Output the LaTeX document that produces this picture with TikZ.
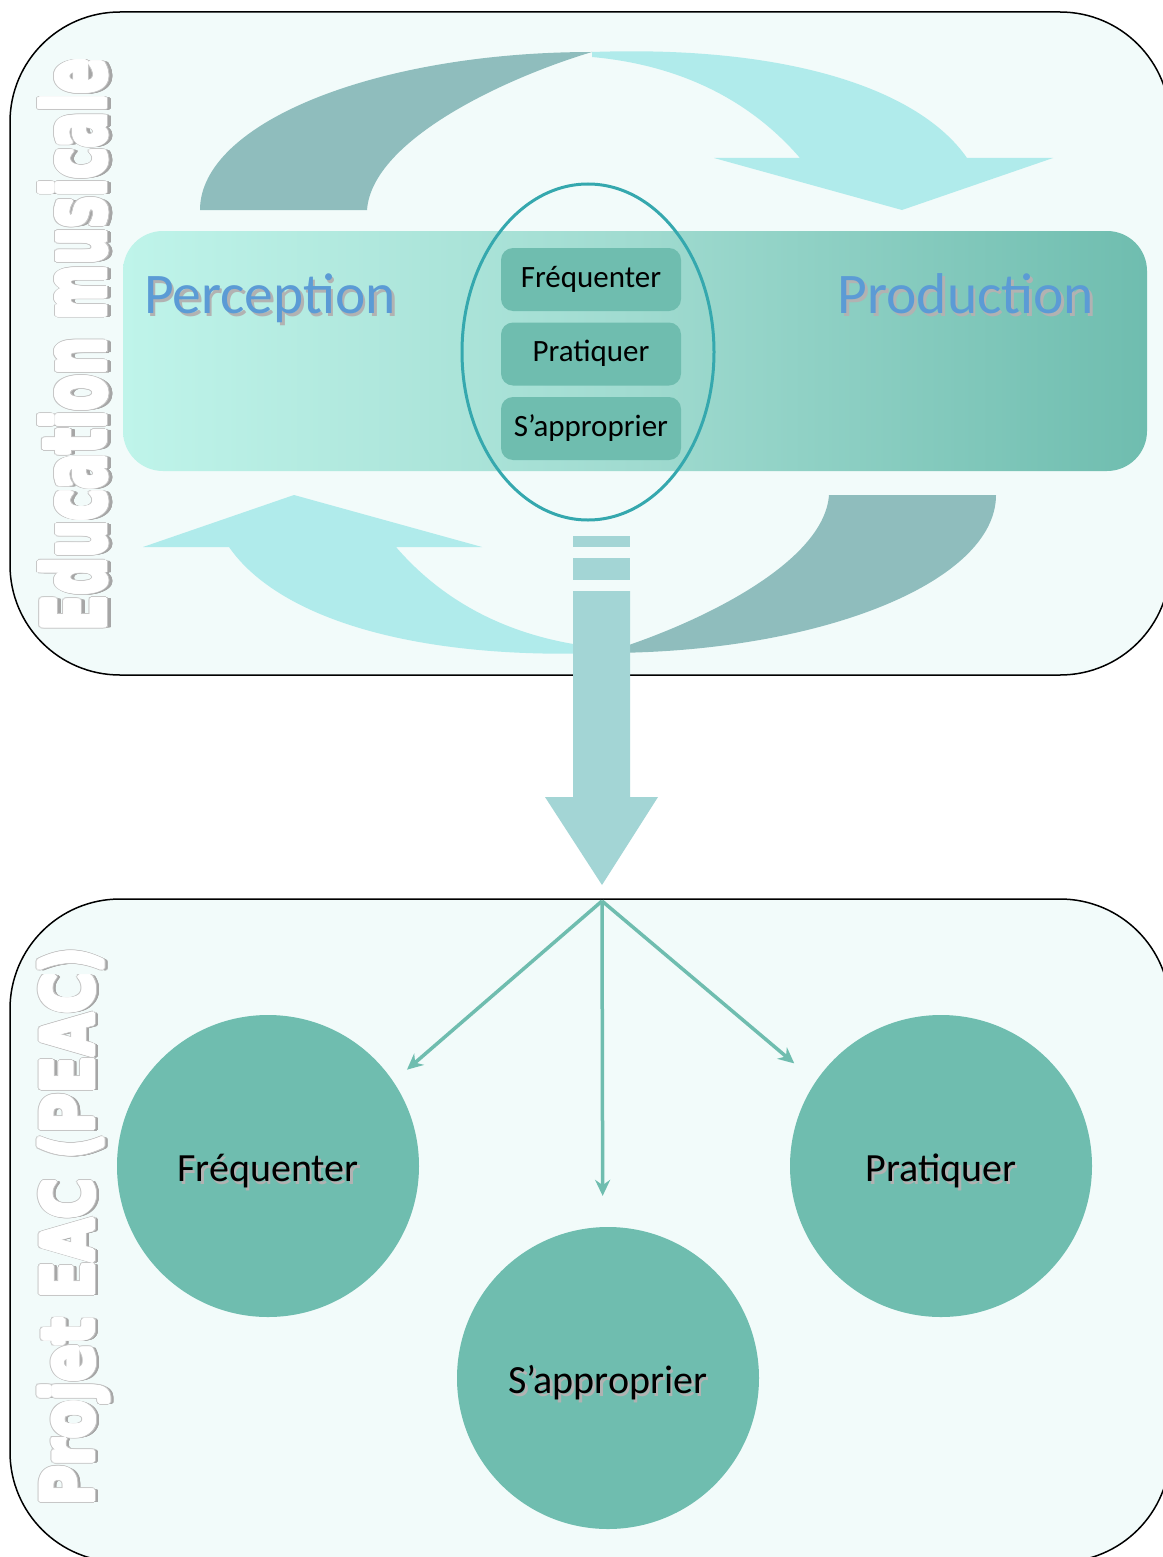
\documentclass[tikz,border=0pt]{standalone}
\usepackage{fontspec}
\setmainfont{Carlito}
\newfontfamily\titlefont{DejaVu Sans}
\usepackage[copies]{contour}
\usetikzlibrary{arrows.meta}
\contournumber{24}

\definecolor{framefill}{HTML}{F2FBFA}
\definecolor{backface}{HTML}{8FBDBD}
\definecolor{frontface}{HTML}{B0EBEB}
\definecolor{bandleft}{HTML}{BFF4EA}
\definecolor{bandmid}{HTML}{A0DBD0}
\definecolor{sea}{HTML}{6FBDAF}
\definecolor{ringcol}{HTML}{35A8AE}
\definecolor{bigarrow}{HTML}{A3D5D5}
\definecolor{label}{HTML}{5B9BD5}

\newcommand{\shadowed}[2]{\rlap{\smash{\kern2.5pt\raisebox{-3pt}{\textcolor{black!30}{#2}}}}\textcolor{#1}{#2}}
\newcommand{\ghost}[1]{%
  \rlap{\smash{\kern-1pt\raisebox{-5pt}{\contourlength{2.5pt}\contour{black!35}{\color{black!35}#1}}}}%
  \rlap{\contourlength{4.5pt}\contour{black!22}{\color{black!22}#1}}%
  {\contourlength{3pt}\color{white}\contour{white}{#1}}}

% twisted cycle arrow (back face + front face with head)
\tikzset{
  twist/.pic={
    \fill[backface] (200,210) .. controls (200,123) and (376,52) .. (592,52)
      .. controls (505,78) and (372,140) .. (367,210) -- cycle;
    \fill[frontface] (592,52) .. controls (790,45) and (920,90) .. (967,158)
      -- (1053,158) -- (902,210) -- (714,158) -- (800,158)
      .. controls (750,100) and (680,65) .. (592,57) -- cycle;
  }
}

\begin{document}
\begin{tikzpicture}[x=1pt, y=-1pt, node distance=74.5pt,
  frame/.style={draw=black, line width=1.5pt, fill=framefill, rounded corners=110pt},
  box/.style={fill=sea, rounded corners=12pt, minimum width=180pt, minimum height=63pt, inner sep=0pt,
    text height=22pt, text depth=7pt, font=\fontsize{31}{36}\selectfont},
  bubble/.style={circle, fill=sea, minimum size=302pt, inner sep=0pt,
    text height=38pt, text depth=8pt, font=\fontsize{40}{48}\selectfont},
  link/.style={draw=sea, line width=3.5pt, -{Stealth[length=16pt, width=15pt]}},
  pole/.style={font=\fontsize{57.5}{66}\selectfont, inner sep=0pt, anchor=base},
  title/.style={rotate=90, inner sep=0pt}]
\useasboundingbox (0,0) rectangle (1162,1557);
\fill[white] (0,0) rectangle (1162,1557);

\draw[frame] (10,12) rectangle (1170,675);
\draw[frame] (10,899) rectangle (1170,1562);

\pic at (0,0) {twist};
\pic[rotate=180] at (1196,705) {twist};

\shade[rounded corners=40pt, left color=bandleft, right color=sea, middle color=bandmid] (123,231) rectangle (1147,471);
\draw[draw=ringcol, line width=3pt] (588,352) ellipse [x radius=126, y radius=168];

\node[box] (b1) at (591,279.5) {Fréquenter};
\node[box] (b2) [below of=b1] {Pratiquer};
\node[box] (b3) [below of=b2] {S’approprier};

\node[pole] (perc) at (270,313) {\shadowed{label}{Perception}};
\node[pole] (prod) at (966,313) {\shadowed{label}{Production}};

\node[title] (edu) at (75,345) {\resizebox*{572pt}{70pt}{\titlefont\bfseries\fontsize{100}{110}\selectfont\ghost{Education musicale}}};
\node[title] (peac) at (75.5,1227) {\resizebox*{558pt}{72pt}{\titlefont\bfseries\fontsize{100}{110}\selectfont\ghost{Projet EAC (PEAC)}}};

% big arrow down
\fill[bigarrow] (573,536) rectangle (630,547);
\fill[bigarrow] (573,558) rectangle (630,580);
\fill[bigarrow] (573,591) -- (630,591) -- (630,797) -- (658,797) -- (602,885) -- (545,797) -- (573,797) -- cycle;

\coordinate (hub) at (602,901);
\node[bubble] (freq) at (268,1166) {\shadowed{black}{Fréquenter}};
\node[bubble] (prat) [right of=freq, node distance=673pt] {\shadowed{black}{Pratiquer}};
\node[bubble] (appr) at (608,1378) {\shadowed{black}{S’approprier}};

\draw[link, shorten >=18pt] (hub) -- (freq.34);
\draw[link, shorten >=31pt] (hub) -- (appr.92);
\draw[link, shorten >=28pt] (hub) -- (prat.146);
\end{tikzpicture}
\end{document}
